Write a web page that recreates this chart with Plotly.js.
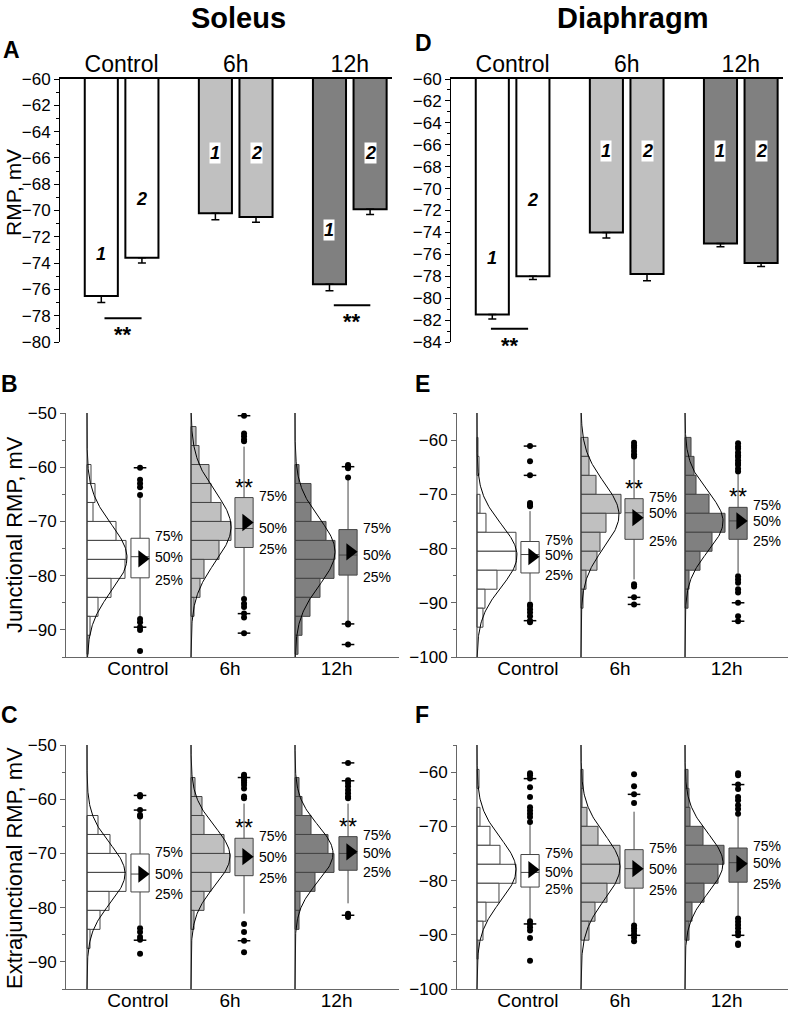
<!DOCTYPE html>
<html>
<head>
<meta charset="utf-8">
<script src="https://cdn.plot.ly/plotly-3.0.1.min.js"></script>
<style>body{margin:0;background:#fff}</style>
</head>
<body>
<div id="plot" style="width:789px;height:1012px"></div>
<script>
// groups and fills
let groups = ['Control', '6h', '12h'];
let fillColors = ['#ffffff', '#c0c0c0', '#808080'];

// A / D : mean RMP (mV) and SEM, 1 = junctional, 2 = extrajunctional
let soleusJunc = [-76.5, -70.2, -75.6];
let soleusJuncErr = [0.5, 0.5, 0.5];
let soleusExtra = [-73.6, -70.5, -69.9];
let soleusExtraErr = [0.4, 0.4, 0.4];
let diaJunc = [-81.5, -74.0, -75.0];
let diaJuncErr = [0.4, 0.5, 0.3];
let diaExtra = [-78.0, -77.8, -76.8];
let diaExtraErr = [0.3, 0.6, 0.3];

// histogram bins (mV), 3.5 mV wide
let binCenters = [-54.25, -57.75, -61.25, -64.75, -68.25, -71.75, -75.25, -78.75, -82.25, -85.75, -89.25, -92.75];
let binWidth = 3.5;

// B: soleus junctional
let bCounts = [
  [0, 0, 4, 8, 6, 29, 39, 38, 24, 11, 3, 1],
  [5, 8, 18, 20, 30, 40, 28, 13, 9, 3, 0, 0],
  [0, 0, 4, 16, 16, 31, 40, 39, 25, 15, 7, 3]
];
let bFitMean = [-76.7, -71.0, -75.6];
let bFitSd = [6.2, 6.5, 6.2];
let bFitPeak = [40, 40, 40];
let bQ1 = [-80.4, -74.8, -79.9];
let bMedian = [-76.5, -71.3, -76.2];
let bQ3 = [-73.1, -65.6, -71.5];
let bLow = [-87.7, -84.0, -88.6];
let bHigh = [-65.4, -56.2, -61.7];
let bMean = [-76.9, -70.2, -75.6];
let bOutliers = [
  [-60.1, -62.3, -63.0, -63.7, -65.1, -88.0, -88.6, -89.5, -90.0, -93.9],
  [-50.5, -53.8, -54.3, -54.9, -55.2, -84.3, -85.2, -85.8, -87.0, -87.7, -90.6],
  [-59.6, -59.9, -60.2, -61.9, -88.8, -89.0, -92.7]
];
let bDashes = [[-60.1, -89.5], [-50.5, -87.0, -90.6], [-59.9, -88.9, -92.7]];

// E: diaphragm junctional
let eCounts = [
  [0, 0, 1, 2, 0, 3, 9, 39, 39, 20, 8, 6],
  [0, 0, 7, 8, 15, 40, 25, 19, 16, 5, 2, 0],
  [0, 0, 6, 9, 11, 24, 40, 27, 15, 4, 3, 0]
];
let eFitMean = [-81.3, -73.8, -75.0];
let eFitSd = [5.8, 6.0, 5.5];
let eFitPeak = [40, 38, 38];
let eQ1 = [-84.5, -78.3, -78.3];
let eMedian = [-81.1, -73.4, -74.9];
let eQ3 = [-78.7, -70.8, -72.4];
let eLow = [-89.7, -85.7, -84.5];
let eHigh = [-73.1, -63.3, -66.3];
let eMean = [-81.5, -74.3, -74.9];
let eOutliers = [
  [-61.1, -63.9, -66.5, -71.6, -71.9, -72.2, -90.3, -90.6, -91.2, -91.8, -92.5, -93.3, -93.6],
  [-60.5, -61.0, -61.4, -62.0, -62.6, -63.0, -86.6, -87.0, -89.0, -90.3],
  [-60.6, -61.2, -61.6, -62.3, -62.8, -63.1, -63.7, -64.2, -64.6, -65.3, -65.8,
   -85.1, -85.7, -86.3, -87.5, -88.1, -90.0, -92.5, -93.4]
];
let eDashes = [[-61.1, -66.5, -93.3], [-89.0, -90.3], [-90.0, -93.4]];

// C: soleus extrajunctional
let cCounts = [
  [0, 0, 0, 11, 23, 39, 39, 22, 13, 3, 0, 0],
  [0, 4, 11, 13, 33, 39, 20, 13, 3, 0, 0, 0],
  [0, 4, 7, 16, 33, 39, 20, 5, 4, 0, 0, 0]
];
let cFitMean = [-73.7, -70.5, -70.0];
let cFitSd = [5.5, 5.5, 5.2];
let cFitPeak = [38, 39, 38];
let cQ1 = [-77.1, -74.1, -73.1];
let cMedian = [-73.8, -70.6, -70.0];
let cQ3 = [-70.1, -67.2, -66.9];
let cLow = [-83.2, -81.1, -79.2];
let cHigh = [-62.3, -60.8, -60.8];
let cMean = [-73.8, -70.6, -69.7];
let cOutliers = [
  [-59.2, -59.5, -62.0, -62.9, -63.2, -83.8, -84.5, -85.4, -85.9, -88.5],
  [-55.5, -55.8, -56.1, -56.5, -56.9, -57.4, -58.0, -59.5, -59.8, -83.0, -84.5, -86.1, -88.2],
  [-53.3, -56.5, -57.0, -57.6, -58.3, -58.9, -59.5, -59.8, -81.1, -81.4, -81.7]
];
let cDashes = [[-59.3, -62.0, -86.0], [-56.0, -86.1], [-53.3, -56.6, -81.4]];

// F: diaphragm extrajunctional
let fCounts = [
  [0, 0, 2, 0, 3, 13, 23, 39, 22, 9, 6, 1],
  [0, 0, 2, 1, 6, 17, 39, 39, 26, 14, 8, 0],
  [0, 0, 3, 4, 5, 18, 39, 33, 19, 7, 4, 0]
];
let fFitMean = [-78.0, -77.5, -76.8];
let fFitSd = [5.8, 6.0, 5.5];
let fFitPeak = [39, 39, 38];
let fQ1 = [-81.2, -81.4, -80.3];
let fMedian = [-78.5, -77.8, -76.7];
let fQ3 = [-75.2, -74.3, -74.0];
let fLow = [-87.1, -88.0, -86.5];
let fHigh = [-69.5, -67.3, -68.0];
let fMean = [-78.0, -77.8, -76.9];
let fOutliers = [
  [-60.2, -60.6, -61.2, -62.8, -64.6, -66.5, -67.1, -67.7, -68.3, -69.2, -87.5, -88.0, -88.6, -89.2, -90.6, -94.8],
  [-60.4, -62.6, -64.1, -65.7, -88.3, -88.8, -89.3, -89.9, -90.5, -91.2],
  [-60.2, -60.6, -62.3, -63.1, -64.6, -65.2, -66.1, -66.8, -67.7, -87.0, -87.6, -88.2, -88.8, -89.5, -90.1, -91.6, -91.9]
];
let fDashes = [[-61.2, -88.0], [-64.1, -90.1], [-62.3, -90.1]];

// ---- drawing ----
let W = 789, H = 1012;
let px = v => v / W;
let py = v => 1 - v / H;
let histScale = 1 / 104;
let boxOffset = 0.51;
let data = [];
let shapes = [];
let annotations = [];

// bar panels (A, D)
function barPanel(xa, ya, junc, juncErr, extra, extraErr) {
  [[junc, juncErr, -0.323], [extra, extraErr, 0.033]].forEach(s => {
    data.push({
      type: 'bar', xaxis: xa, yaxis: ya,
      x: [0, 1, 2], y: s[0], width: 0.29, offset: s[2],
      marker: {color: fillColors, line: {color: 'black', width: 2}},
      error_y: {type: 'data', symmetric: false, array: [0, 0, 0], arrayminus: s[1],
                color: 'black', thickness: 1.5, width: 4},
      hoverinfo: 'skip'
    });
  });
}
barPanel('x', 'y', soleusJunc, soleusJuncErr, soleusExtra, soleusExtraErr);
barPanel('x2', 'y2', diaJunc, diaJuncErr, diaExtra, diaExtraErr);

// histogram + box panels
function distPanel(xa, ya, yRange, counts, fm, fs, fp, q1, med, q3, lo, hi, mean, outl, dashes, stars) {
  for (let k = 0; k < 3; k++) {
    let ys = [], xs = [];
    counts[k].forEach((c, i) => { if (c > 0) { ys.push(binCenters[i]); xs.push(c * histScale); } });
    data.push({
      type: 'bar', orientation: 'h', xaxis: xa, yaxis: ya,
      y: ys, x: xs, base: k, width: binWidth,
      marker: {color: fillColors[k], line: {color: '#444', width: 1}},
      hoverinfo: 'skip'
    });
    // fitted normal curve
    let cy = [], cx = [];
    for (let v = yRange[0]; v <= yRange[1]; v += 0.25) {
      cy.push(v);
      cx.push(k + fp[k] * histScale * Math.exp(-Math.pow(v - fm[k], 2) / (2 * fs[k] * fs[k])));
    }
    data.push({type: 'scatter', mode: 'lines', xaxis: xa, yaxis: ya, x: cx, y: cy,
               line: {color: 'black', width: 1}, hoverinfo: 'skip'});
    data.push({
      type: 'box', xaxis: xa, yaxis: ya, x: [k + boxOffset],
      q1: [q1[k]], median: [med[k]], q3: [q3[k]], lowerfence: [lo[k]], upperfence: [hi[k]],
      width: 0.175, fillcolor: fillColors[k], line: {color: '#444', width: 1},
      whiskerwidth: 0, boxpoints: false, hoverinfo: 'skip'
    });
    data.push({type: 'scatter', mode: 'markers', xaxis: xa, yaxis: ya,
               x: outl[k].map(() => k + boxOffset), y: outl[k],
               marker: {color: 'black', size: 6}, hoverinfo: 'skip'});
    data.push({type: 'scatter', mode: 'markers', xaxis: xa, yaxis: ya,
               x: dashes[k].map(() => k + boxOffset), y: dashes[k],
               marker: {symbol: 'line-ew', size: 9, line: {color: 'black', width: 1.5}}, hoverinfo: 'skip'});
    data.push({type: 'scatter', mode: 'markers', xaxis: xa, yaxis: ya,
               x: [k + 0.53], y: [mean[k]],
               marker: {symbol: 'triangle-right', size: 15, color: 'black'}, hoverinfo: 'skip'});
    shapes.push({type: 'line', xref: xa, yref: ya, x0: k, x1: k, y0: yRange[0], y1: yRange[1],
                 line: {color: '#333', width: 1}});
    [['75%', q3[k], 2], ['50%', med[k], 0], ['25%', q1[k], -2]].forEach(l => {
      annotations.push({xref: xa, yref: ya, x: k + 0.635, y: l[1], yshift: l[2], text: l[0], showarrow: false,
                        xanchor: 'left', yanchor: 'middle', font: {size: 14, color: 'black'}});
    });
    if (stars[k]) {
      annotations.push({xref: xa, yref: ya, x: k + boxOffset, y: q3[k], text: '**', showarrow: false,
                        xanchor: 'center', yanchor: 'bottom', yshift: -5, font: {size: 23, color: 'black'}});
    }
  }
}
distPanel('x3', 'y3', [-95, -50], bCounts, bFitMean, bFitSd, bFitPeak, bQ1, bMedian, bQ3, bLow, bHigh, bMean, bOutliers, bDashes, [false, true, false]);
distPanel('x4', 'y4', [-100, -55], eCounts, eFitMean, eFitSd, eFitPeak, eQ1, eMedian, eQ3, eLow, eHigh, eMean, eOutliers, eDashes, [false, true, true]);
distPanel('x5', 'y5', [-95, -50], cCounts, cFitMean, cFitSd, cFitPeak, cQ1, cMedian, cQ3, cLow, cHigh, cMean, cOutliers, cDashes, [false, true, true]);
distPanel('x6', 'y6', [-100, -55], fCounts, fFitMean, fFitSd, fFitPeak, fQ1, fMedian, fQ3, fLow, fHigh, fMean, fOutliers, fDashes, [false, false, false]);

// significance bars in A and D
[['x', 'y', -0.15, 0.175, -78.2], ['x', 'y', 1.86, 2.18, -77.2], ['x2', 'y2', -0.19, 0.136, -82.8]].forEach(s => {
  shapes.push({type: 'line', xref: s[0], yref: s[1], x0: s[2], x1: s[3], y0: s[4], y1: s[4],
               line: {color: 'black', width: 2}});
  annotations.push({xref: s[0], yref: s[1], x: (s[2] + s[3]) / 2, y: s[4], text: '<b>**</b>',
                    showarrow: false, yanchor: 'top', yshift: -2, font: {size: 22, color: 'black'}});
});

// bar labels 1 / 2
let labelA = [[-73.3, -69.1], [-65.6, -65.6], [-71.5, -65.6]];
let labelD = [[-76.3, -71.0], [-66.6, -66.6], [-66.6, -66.6]];
[['x', 'y', labelA], ['x2', 'y2', labelD]].forEach(p => {
  for (let k = 0; k < 3; k++) {
    [-0.178, 0.178].forEach((o, j) => {
      annotations.push({xref: p[0], yref: p[1], x: k + o, y: p[2][k][j], text: '<b><i>' + (j + 1) + '</i></b>',
                        showarrow: false, bgcolor: 'white', borderpad: 0, font: {size: 18, color: 'black'}});
    });
  }
});

// titles, panel letters, y titles
let paperText = [
  ['Soleus', 238, 18, 29, true, 0],
  ['Diaphragm', 632, 18, 29, true, 0],
  ['A', 11, 50, 23, true, 0], ['D', 423, 43, 23, true, 0],
  ['B', 9, 384, 23, true, 0], ['E', 422, 384, 23, true, 0],
  ['C', 9, 715, 23, true, 0], ['F', 422, 715, 23, true, 0],
  ['RMP, mV', 13, 193, 21, false, -90],
  ['Junctional RMP, mV', 14, 535, 22, false, -90],
  ['Extrajunctional RMP, mV', 14, 868, 22, false, -90]
];
paperText.forEach(t => {
  annotations.push({xref: 'paper', yref: 'paper', x: px(t[1]), y: py(t[2]),
                    text: t[4] ? '<b>' + t[0] + '</b>' : t[0], textangle: t[5],
                    showarrow: false, xanchor: 'center', yanchor: 'middle', font: {size: t[3], color: 'black'}});
});

function barXAxis(d) {
  return {domain: d, range: [-0.54, 2.37], tickvals: [0, 1, 2], ticktext: groups, side: 'top',
          ticks: '', showline: true, linewidth: 2.5, linecolor: 'black', showgrid: false,
          zeroline: false, tickfont: {size: 23}, ticklabelstandoff: -5};
}
function barYAxis(d, r, anchor) {
  return {domain: d, range: r, anchor: anchor, dtick: 2, ticks: 'outside', ticklen: 5, tickcolor: 'black',
          showline: true, linecolor: 'black', linewidth: 1, showgrid: false, zeroline: false,
          minor: {dtick: 1, ticklen: 3, ticks: 'outside', tickcolor: 'black'}, tickfont: {size: 17}};
}
function distXAxis(d, r, anchor) {
  return {domain: d, range: r, anchor: anchor, tickvals: [0.49, 1.375, 2.4], ticktext: groups, ticks: '',
          showline: true, linecolor: '#666', linewidth: 1, showgrid: false, zeroline: false,
          tickfont: {size: 19}, ticklabelstandoff: -6};
}
function distYAxis(d, r, anchor) {
  return {domain: d, range: r, anchor: anchor, dtick: 10, tick0: -100, ticks: 'outside', ticklen: 5,
          tickcolor: '#666', showline: true, linecolor: '#666', linewidth: 1, showgrid: false,
          zeroline: false, minor: {dtick: 5, ticklen: 3, ticks: 'outside', tickcolor: '#666'},
          tickfont: {size: 17}};
}

let layout = {
  width: W, height: H, autosize: false, margin: {l: 0, r: 0, t: 0, b: 0},
  paper_bgcolor: 'white', plot_bgcolor: 'white', showlegend: false,
  barmode: 'overlay', boxmode: 'overlay',
  font: {family: 'Liberation Sans, Arial, sans-serif', color: 'black'},
  xaxis: Object.assign(barXAxis([px(60), px(392)]), {anchor: 'y'}),
  yaxis: barYAxis([py(342), py(79)], [-80, -60], 'x'),
  xaxis2: Object.assign(barXAxis([px(451), px(783)]), {anchor: 'y2'}),
  yaxis2: barYAxis([py(342), py(79)], [-84, -60], 'x2'),
  xaxis3: distXAxis([px(66), px(399)], [-0.202, 3.0], 'y3'),
  yaxis3: distYAxis([py(657), py(413)], [-95, -50], 'x3'),
  xaxis4: distXAxis([px(457), px(788)], [-0.192, 2.99], 'y4'),
  yaxis4: distYAxis([py(657), py(413)], [-100, -55], 'x4'),
  xaxis5: distXAxis([px(66), px(399)], [-0.202, 3.0], 'y5'),
  yaxis5: distYAxis([py(989), py(745)], [-95, -50], 'x5'),
  xaxis6: distXAxis([px(457), px(788)], [-0.192, 2.99], 'y6'),
  yaxis6: distYAxis([py(989), py(745)], [-100, -55], 'x6'),
  shapes: shapes,
  annotations: annotations
};

Plotly.newPlot('plot', data, layout, {staticPlot: true});
</script>
</body>
</html>
